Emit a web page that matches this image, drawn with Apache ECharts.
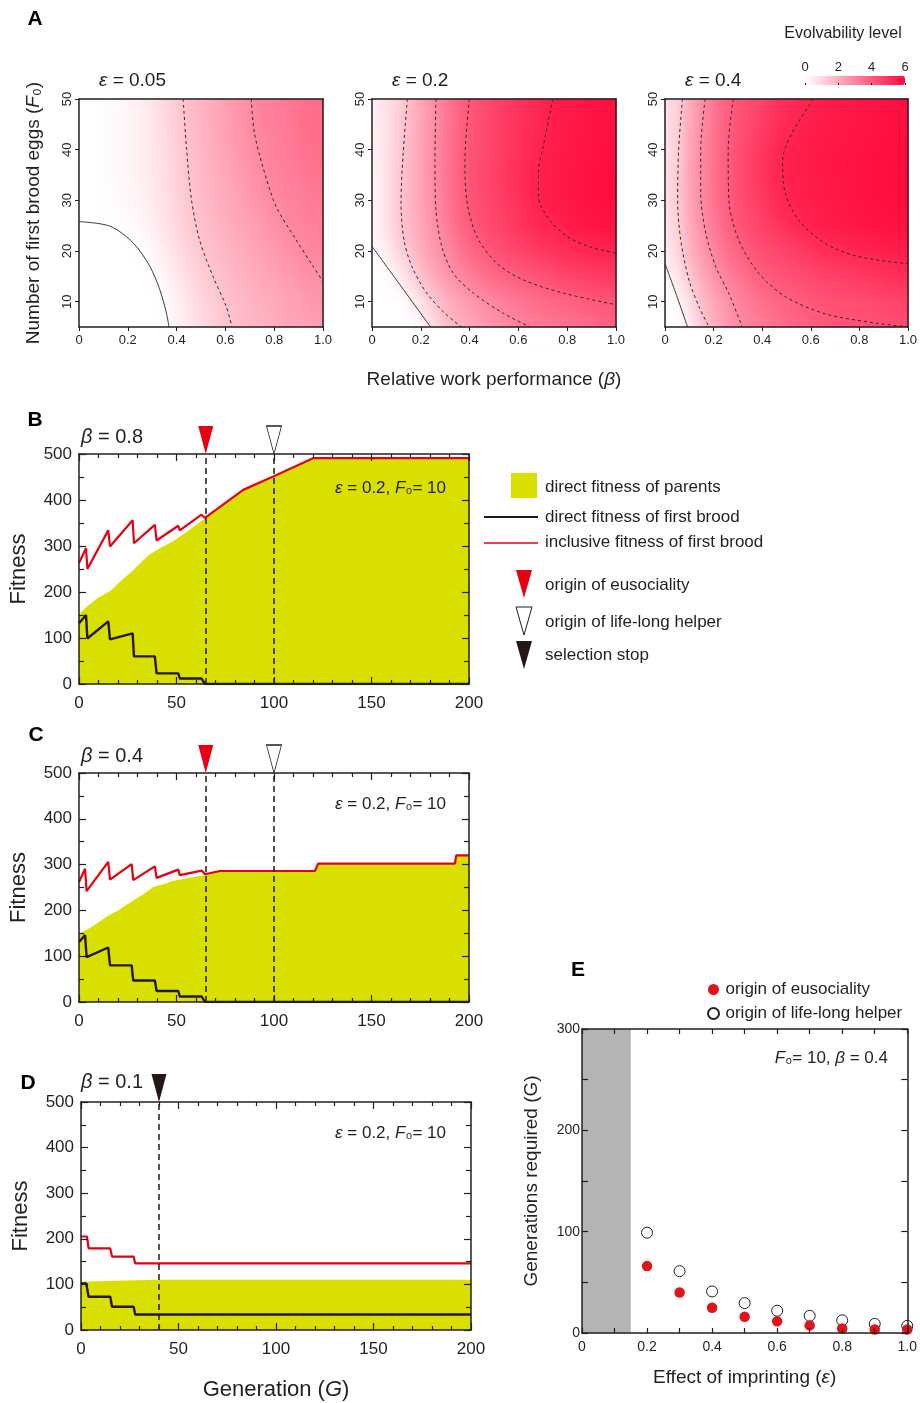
<!DOCTYPE html>
<html>
<head>
<meta charset="utf-8">
<title>Evolvability and fitness</title>
<script src="https://cdn.jsdelivr.net/npm/echarts@6.0.0/dist/echarts.min.js"></script>
<style>
html,body{margin:0;padding:0;background:#ffffff;}
#chart{width:920px;height:1403px;}
</style>
</head>
<body>
<div id="chart"></div>
<script>
// ================= Panel A : evolvability heat maps =================
// cell centres (beta across, F0 up); each cell is 0.05 wide in beta and 5 high in F0
const betaCells = [0.025,0.075,0.125,0.175,0.225,0.275,0.325,0.375,0.425,0.475,0.525,0.575,0.625,0.675,0.725,0.775,0.825,0.875,0.925,0.975];
const f0Cells = [7.5,12.5,17.5,22.5,27.5,32.5,37.5,42.5,47.5];
const f0Ticks = [10,20,30,40,50];
const epsilonValues = ['0.05','0.2','0.4'];

// rows listed from top (F0 = 47.5) to bottom (F0 = 7.5)
const evoEps005 = [
[0,0,0.1,0.2,0.3,0.5,0.8,1.1,1.5,1.7,2.0,2.2,2.5,2.7,3.0,3.1,3.2,3.4,3.5,3.6],
[0,0,0.1,0.2,0.3,0.5,0.7,1.0,1.4,1.7,1.9,2.2,2.4,2.7,2.9,3.1,3.2,3.3,3.5,3.6],
[0,0,0.1,0.2,0.3,0.5,0.7,1.0,1.4,1.6,1.9,2.1,2.3,2.6,2.8,3.0,3.1,3.3,3.4,3.5],
[0,0,0.1,0.2,0.3,0.4,0.6,0.9,1.3,1.6,1.8,2.0,2.2,2.4,2.7,2.9,3.0,3.1,3.2,3.4],
[0,0,0.05,0.1,0.2,0.4,0.6,0.9,1.2,1.5,1.7,1.9,2.1,2.3,2.5,2.7,2.9,3.0,3.1,3.2],
[0,0,0,0,0,0.2,0.4,0.7,1.1,1.4,1.6,1.8,2.0,2.1,2.3,2.5,2.7,2.9,3.0,3.1],
[0,0,0,0,0,0,0.2,0.5,0.8,1.2,1.4,1.6,1.8,2.0,2.1,2.3,2.5,2.6,2.8,2.9],
[0,0,0,0,0,0,0,0.3,0.6,0.9,1.2,1.5,1.7,1.8,2.0,2.1,2.2,2.4,2.5,2.7],
[0,0,0,0,0,0,0,0.1,0.4,0.7,1.0,1.3,1.5,1.7,1.8,1.9,2.1,2.2,2.3,2.4]
];
const evoEps02 = [
[0.4,0.9,1.3,1.9,2.5,3.0,3.5,4.0,4.2,4.5,4.7,4.9,5.1,5.3,5.5,5.6,5.6,5.7,5.8,5.8],
[0.4,0.9,1.4,2.0,2.5,3.0,3.5,4.0,4.3,4.5,4.7,4.9,5.1,5.3,5.5,5.6,5.7,5.7,5.8,5.9],
[0.3,0.9,1.5,2.0,2.6,3.1,3.6,4.1,4.3,4.5,4.8,5.0,5.2,5.4,5.6,5.6,5.7,5.8,5.8,5.9],
[0.3,0.9,1.5,2.0,2.5,3.1,3.5,4.0,4.3,4.5,4.8,5.0,5.2,5.5,5.6,5.7,5.7,5.8,5.9,6.0],
[0.3,0.9,1.6,2.0,2.5,3.0,3.5,4.0,4.3,4.5,4.7,4.9,5.1,5.4,5.5,5.6,5.7,5.8,5.8,5.9],
[0.3,0.9,1.4,1.9,2.4,2.8,3.2,3.7,4.1,4.3,4.5,4.7,4.9,5.1,5.3,5.4,5.5,5.6,5.6,5.7],
[0,0.3,1.0,1.6,2.1,2.5,2.9,3.3,3.6,3.9,4.2,4.3,4.4,4.5,4.6,4.8,4.9,5.0,5.1,5.2],
[0,0,0,0.9,1.6,2.0,2.4,2.7,3.0,3.2,3.4,3.5,3.7,3.9,4.1,4.2,4.3,4.4,4.5,4.5],
[0,0,0,0,0.4,1.3,1.7,2.0,2.3,2.5,2.8,3.0,3.1,3.2,3.3,3.4,3.5,3.6,3.7,3.9]
];
const evoEps04 = [
[0.7,1.6,2.4,3.1,3.6,4.1,4.3,4.5,4.8,5.0,5.2,5.4,5.5,5.6,5.6,5.7,5.7,5.8,5.8,5.9],
[0.7,1.7,2.5,3.1,3.7,4.2,4.4,4.7,5.0,5.3,5.5,5.6,5.6,5.7,5.7,5.7,5.8,5.8,5.9,5.9],
[0.7,1.8,2.6,3.2,3.7,4.2,4.5,4.8,5.1,5.4,5.5,5.6,5.6,5.7,5.7,5.8,5.8,5.9,5.9,6.0],
[0.8,1.8,2.6,3.2,3.7,4.2,4.5,4.8,5.1,5.4,5.5,5.6,5.6,5.7,5.7,5.8,5.8,5.9,5.9,6.0],
[0.7,1.8,2.5,3.1,3.6,4.1,4.4,4.6,4.9,5.2,5.4,5.5,5.6,5.6,5.7,5.7,5.8,5.8,5.9,5.9],
[0.6,1.6,2.3,2.9,3.4,3.9,4.2,4.4,4.6,4.8,5.0,5.2,5.4,5.5,5.6,5.6,5.7,5.7,5.7,5.8],
[0.4,1.3,2.0,2.6,3.1,3.4,3.8,4.1,4.2,4.3,4.4,4.5,4.7,4.8,4.9,5.0,5.1,5.2,5.3,5.4],
[0,0.7,1.6,2.1,2.6,3.0,3.3,3.6,3.9,4.1,4.2,4.3,4.4,4.4,4.5,4.6,4.6,4.7,4.8,4.9],
[0,0,0.9,1.7,2.2,2.7,3.0,3.2,3.3,3.5,3.7,3.8,4.0,4.1,4.2,4.2,4.2,4.3,4.3,4.4]
];

// contour lines [beta, F0]
const zeroEps005 = [[0,25.8],[0.127,24.9],[0.222,21.6],[0.29,17],[0.331,12.4],[0.358,7.8],[0.369,5]];
const lvl1Eps005 = [[0.427,50],[0.441,40],[0.461,30.1],[0.494,22.2],[0.549,15],[0.603,9.1],[0.627,5]];
const lvl2Eps005 = [[0.706,50],[0.719,43.3],[0.753,36.7],[0.808,28.8],[0.89,22.2],[0.959,17],[1.0,14]];

const zeroEps02 = [[0,20.9],[0.1,14.3],[0.24,5]];
const lvl1Eps02 = [[0.145,50],[0.128,39.4],[0.119,29.5],[0.131,22.2],[0.163,17],[0.224,11.7],[0.299,7.7],[0.367,5]];
const lvl2Eps02 = [[0.262,50],[0.258,38.1],[0.262,28.2],[0.286,20.9],[0.333,15.6],[0.415,11.7],[0.538,7.7],[0.648,5]];
const lvl3Eps02 = [[0.399,50],[0.381,38.1],[0.388,30.2],[0.429,22.9],[0.511,17.6],[0.62,14.3],[0.784,11.7],[1.0,9.4]];
const lvl4Eps02 = [[0.741,50],[0.702,40.7],[0.682,35.5],[0.682,30.8],[0.716,26.9],[0.798,22.9],[0.907,20.6],[1.0,19.6]];

const zeroEps04 = [[0,17.5],[0.045,11.6],[0.093,5]];
const lvl1Eps04 = [[0.072,50],[0.056,39.9],[0.052,30],[0.065,22.1],[0.099,14.2],[0.14,9],[0.181,5]];
const lvl2Eps04 = [[0.165,50],[0.147,39.9],[0.147,31.4],[0.168,23.5],[0.209,16.9],[0.263,11.6],[0.318,5]];
const lvl3Eps04 = [[0.281,50],[0.26,39.9],[0.263,30],[0.304,22.1],[0.386,15.6],[0.495,11],[0.659,7.6],[0.877,5.7],[1.0,5.05]];
const lvl4Eps04 = [[0.611,50],[0.522,43.2],[0.484,37.9],[0.495,31.4],[0.55,26.1],[0.659,21.5],[0.795,18.9],[1.0,17.5]];

// ================= Panels B-D : fitness over generations =================
const parentsB   = [[0,152],[5,172],[10,188],[16,202],[22,226],[28,248],[32,265],[36,281],[42,296],[48,310],[56,333],[64,358],[64.6,361],[84.2,422],[99.6,451],[120,491],[200,491]];
const firstBroodB = [[0,132],[3.6,150],[4.3,99],[15,136],[15.9,97],[27.5,110],[28.2,60],[38.9,60],[39.8,23],[50.9,23],[51.7,12],[62.8,12],[64.6,0],[200,0]];
const inclusiveB = [[0,263],[3.6,295],[4.3,250],[15,334],[15.9,299],[27.5,356],[28.2,306],[38.9,346],[39.8,312],[50.9,344],[51.7,334],[62.8,368],[64.6,361],[84.2,422],[99.6,451],[120,491],[200,491]];

const parentsC   = [[0,149],[7,165],[14,186],[20,200],[28,222],[34,238],[38,251],[44,258],[48,264],[56,271],[64,277],[64.6,279],[72.2,286],[121,286],[122.6,302],[192.7,302],[193.5,320],[200,320]];
const firstBroodC = [[0,131],[3.1,146],[3.9,98],[15,119],[15.9,80],[27,80],[27.8,47],[38.9,47],[39.8,24],[50.9,24],[51.7,12],[62.9,12],[64.6,0],[200,0]];
const inclusiveC = [[0,262],[3.1,291],[3.9,242],[15,306],[15.9,267],[27,301],[27.8,266],[38.9,296],[39.8,271],[50.9,289],[51.7,277],[62.9,287],[64.6,279],[72.2,286],[121,286],[122.6,302],[192.7,302],[193.5,320],[200,320]];

const parentsD   = [[0,106],[28,109],[40,110],[200,110]];
const firstBroodD = [[0,102],[2.7,102],[3.9,73],[15,73],[15.9,51],[27,51],[27.8,34],[200,34]];
const inclusiveD = [[0,205],[3.1,205],[3.9,179],[15,179],[15.9,161],[27,161],[27.8,146],[200,146]];

const eusocialityOriginB = 65, lifelongHelperB = 100;
const eusocialityOriginC = 65, lifelongHelperC = 100;
const selectionStopD = 40;
const betaValues = ['0.8','0.4','0.1'];

// ================= Panel E =================
const imprintEffect = [0.2,0.3,0.4,0.5,0.6,0.7,0.8,0.9,1.0];
const gensEusociality = [66,40,25,16,11.5,7.5,4.5,3.5,3.5];
const gensLifelongHelper = [99,61,41,29.5,22,17,12.5,9,7];
const excludedEffectRange = [0, 0.15];

// ================= styling helpers =================
const FONT = "'Liberation Sans', Arial, Helvetica, sans-serif";
const INK = '#231f20';
const RED = '#e60012';
const YELLOW = '#d9df00';
const DARK = '#231815';
const TRI = 'path://M0,0L16,0L8,28Z';
const EVO_MAX = 6;
const EVO_COLORS = ['#ffffff','#ff0a3c'];

function richC(size){ return {
  n:{fontFamily:FONT,fontSize:size,color:INK},
  i:{fontFamily:FONT,fontSize:size,color:INK,fontStyle:'italic'}
};}
function richG(size){ return {
  n:{fontFamily:FONT,fontSize:size,fill:INK},
  i:{fontFamily:FONT,fontSize:size,fill:INK,fontStyle:'italic'}
};}
function gtext(x,y,text,size,align,extra){
  return {type:'text', x:x, y:y, z:50, silent:true,
    style:Object.assign({text:text, fontFamily:FONT, fontSize:size, fill:INK,
      textAlign:align||'left', textVerticalAlign:'middle', rich:richG(size)}, extra||{})};
}
const lineSt = {color:INK, width:1.5};

const grids=[], xAxes=[], yAxes=[], series=[], graphics=[];
function addGrid(g){ grids.push(g); return grids.length-1; }
function addX(a){ xAxes.push(a); return xAxes.length-1; }
function addY(a){ yAxes.push(a); return yAxes.length-1; }
function cellData(rows){
  const out=[]; const n=rows.length;
  rows.forEach((row,r)=>row.forEach((v,c)=>out.push([betaCells[c], f0Cells[n-1-r], v])));
  return out;
}
const fmt01 = v => v===0 ? '0' : v.toFixed(1);
const evoColor = v => echarts.color.lerp(Math.max(0, Math.min(1, v/EVO_MAX)), EVO_COLORS);

// smooth-shaded cell renderer: each measured cell is drawn with colours blended
// towards its neighbours (display shading only; values come from the rows above)
function shadedCells(rows){
  const nR = rows.length, nC = rows[0].length;
  const cell = (r,c) => rows[nR-1-r][c];           // r counted from the bottom
  const corner = (i,j) => {                           // i: column edge, j: row edge
    let s=0, n=0;
    [[-1,-1],[0,-1],[-1,0],[0,0]].forEach(d=>{
      const c=i+d[0], r=j+d[1];
      if (c>=0 && c<nC && r>=0 && r<nR){ s+=cell(r,c); n++; }
    });
    return s/n;
  };
  const dB = betaCells[1]-betaCells[0], dF = f0Cells[1]-f0Cells[0];
  return function(params, api){
    const bc = api.value(0), fc = api.value(1);
    const c = Math.round((bc-betaCells[0])/dB), r = Math.round((fc-f0Cells[0])/dF);
    const p0 = api.coord([bc-dB/2, fc-dF/2]), p1 = api.coord([bc+dB/2, fc+dF/2]);
    const x = p0[0], w = p1[0]-p0[0], yb = p0[1], yt = p1[1];
    const vBL=corner(c,r), vBR=corner(c+1,r), vTL=corner(c,r+1), vTR=corner(c+1,r+1);
    const N = 6, children = [];
    for (let k=0; k<N; k++){
      const t = (k+0.5)/N;
      const vl = vBL+(vTL-vBL)*t, vr = vBR+(vTR-vBR)*t;
      const y1 = yb+(yt-yb)*k/N, y2 = yb+(yt-yb)*(k+1)/N;
      children.push({type:'rect', silent:true,
        shape:{x:x-0.4, y:Math.min(y1,y2)-0.4, width:w+0.8, height:Math.abs(y2-y1)+0.8},
        style:{fill:new echarts.graphic.LinearGradient(0,0,1,0,[{offset:0,color:evoColor(vl)},{offset:1,color:evoColor(vr)}])}});
    }
    return {type:'group', children:children};
  };
}

// ---------- Panel A build ----------
const panelA = [
  {box:{left:79,top:99,width:244,height:228}, evo:evoEps005, zero:zeroEps005, levels:[lvl1Eps005,lvl2Eps005], titleX:99},
  {box:{left:372,top:99,width:244,height:228}, evo:evoEps02, zero:zeroEps02, levels:[lvl1Eps02,lvl2Eps02,lvl3Eps02,lvl4Eps02], titleX:392},
  {box:{left:665,top:99,width:245,height:228}, evo:evoEps04, zero:zeroEps04, levels:[lvl1Eps04,lvl2Eps04,lvl3Eps04,lvl4Eps04], titleX:685}
];
const heatSeriesIdx = [];
panelA.forEach((p,k)=>{
  const gi = addGrid(p.box);
  const xv = addX({gridIndex:gi, type:'value', min:0, max:1, interval:0.2, position:'bottom', z:6,
    axisLine:{show:true, onZero:false, lineStyle:lineSt},
    axisTick:{show:true, length:4, lineStyle:{color:INK, width:1}},
    axisLabel:{margin:7, fontFamily:FONT, fontSize:13, color:INK, formatter:fmt01},
    splitLine:{show:false},
    name: k===1 ? '{n|Relative work performance (}{i|β}{n|)}' : '',
    nameLocation:'middle', nameGap:43, nameTextStyle:{rich:richC(19)}});
  addX({gridIndex:gi, type:'value', min:0, max:1, position:'top', z:6,
    axisLine:{show:true, onZero:false, lineStyle:lineSt}, axisTick:{show:false}, axisLabel:{show:false}, splitLine:{show:false}});
  const yv = addY({gridIndex:gi, type:'value', min:5, max:50, position:'left', z:6,
    axisLine:{show:true, onZero:false, lineStyle:lineSt},
    axisTick:{show:true, length:4, customValues:f0Ticks, lineStyle:{color:INK, width:1}},
    axisLabel:{rotate:90, margin:5, customValues:f0Ticks, fontFamily:FONT, fontSize:13, color:INK},
    splitLine:{show:false},
    name: k===0 ? '{n|Number of first brood eggs (}{i|F}{n|₀)}' : '',
    nameLocation:'middle', nameRotate:90, nameGap:36, nameTextStyle:{rich:richC(19)}});
  addY({gridIndex:gi, type:'value', min:5, max:50, position:'right', z:6,
    axisLine:{show:true, onZero:false, lineStyle:lineSt}, axisTick:{show:false}, axisLabel:{show:false}, splitLine:{show:false}});
  heatSeriesIdx.push(series.length);
  series.push({type:'custom', name:'Evolvability level (ε = '+epsilonValues[k]+')', xAxisIndex:xv, yAxisIndex:yv,
    data:cellData(p.evo), renderItem:shadedCells(p.evo), silent:true, z:2, progressive:0,
    encode:{x:0, y:1}});
  series.push({type:'line', xAxisIndex:xv, yAxisIndex:yv, data:p.zero, smooth:0.3, symbol:'none', silent:true, z:4,
    lineStyle:{color:'#3c3c3c', width:1}});
  p.levels.forEach(lv=>{
    series.push({type:'line', xAxisIndex:xv, yAxisIndex:yv, data:lv, smooth:0.3, symbol:'none', silent:true, z:4,
      lineStyle:{color:'#2a2a2a', width:1, type:[3,3]}});
  });
  graphics.push(gtext(p.titleX, 81, '{i|ε}{n| = '+epsilonValues[k]+'}', 19));
});
// colour bar tick axis
{
  const gi = addGrid({left:805, top:76, width:100, height:9});
  addX({gridIndex:gi, type:'value', min:0, max:EVO_MAX, interval:2, position:'top', z:8,
    axisLine:{show:false}, axisTick:{show:true, inside:false, length:2, lineStyle:{color:INK}},
    axisLabel:{margin:2, fontFamily:FONT, fontSize:13, color:INK}, splitLine:{show:false}});
  addY({gridIndex:gi, type:'value', min:0, max:1, show:false});
}
graphics.push(gtext(35, 19, 'A', 21, 'center', {fontWeight:'bold', fill:'#000'}));
graphics.push(gtext(843, 34, 'Evolvability level', 16, 'center'));

// ---------- Panels B-D build ----------
const eventStyle = {
  eusociality:{color:RED, opacity:1},
  helper:{color:'#ffffff', borderColor:INK, borderWidth:1, opacity:1},
  stop:{color:DARK, opacity:1}
};
const fitPanels = [
  {letter:'B', lx:35, ly:420, box:{left:79,top:454,width:390,height:230}, parents:parentsB, first:firstBroodB, inclusive:inclusiveB,
   events:[['eusociality',eusocialityOriginB],['helper',lifelongHelperB]], betaY:437, noteY:488},
  {letter:'C', lx:36, ly:735, box:{left:79,top:773,width:390,height:229}, parents:parentsC, first:firstBroodC, inclusive:inclusiveC,
   events:[['eusociality',eusocialityOriginC],['helper',lifelongHelperC]], betaY:756, noteY:804},
  {letter:'D', lx:28, ly:1083, box:{left:81,top:1102,width:390,height:228}, parents:parentsD, first:firstBroodD, inclusive:inclusiveD,
   events:[['stop',selectionStopD]], betaY:1082, noteY:1133, xName:true}
];
fitPanels.forEach((p,k)=>{
  const gi = addGrid(p.box);
  const tickSt = {color:INK, width:1.2};
  const xb = addX({gridIndex:gi, type:'value', min:0, max:200, interval:50, position:'bottom', z:6,
    axisLine:{show:true, onZero:false, lineStyle:lineSt},
    axisTick:{show:true, inside:true, length:7, lineStyle:tickSt},
    minorTick:{show:true, splitNumber:5, length:4, lineStyle:tickSt},
    axisLabel:{margin:11, fontFamily:FONT, fontSize:17, color:INK},
    splitLine:{show:false}, minorSplitLine:{show:false},
    name: p.xName ? '{n|Generation (}{i|G}{n|)}' : '', nameLocation:'middle', nameGap:49, nameTextStyle:{rich:richC(22)}});
  addX({gridIndex:gi, type:'value', min:0, max:200, interval:50, position:'top', z:6,
    axisLine:{show:true, onZero:false, lineStyle:lineSt},
    axisTick:{show:true, inside:true, length:7, lineStyle:tickSt},
    minorTick:{show:true, splitNumber:5, length:4, lineStyle:tickSt},
    axisLabel:{show:false}, splitLine:{show:false}});
  const yl = addY({gridIndex:gi, type:'value', min:0, max:500, interval:100, position:'left', z:6,
    axisLine:{show:true, onZero:false, lineStyle:lineSt},
    axisTick:{show:true, inside:true, length:7, lineStyle:tickSt},
    minorTick:{show:true, splitNumber:2, length:5, lineStyle:tickSt},
    axisLabel:{margin:7, fontFamily:FONT, fontSize:17, color:INK},
    splitLine:{show:false},
    name:'Fitness', nameLocation:'middle', nameRotate:90, nameGap:49,
    nameTextStyle:{fontFamily:FONT, fontSize:22, color:INK}});
  addY({gridIndex:gi, type:'value', min:0, max:500, interval:100, position:'right', z:6,
    axisLine:{show:true, onZero:false, lineStyle:lineSt},
    axisTick:{show:true, inside:true, length:7, lineStyle:tickSt},
    minorTick:{show:true, splitNumber:2, length:5, lineStyle:tickSt},
    axisLabel:{show:false}, splitLine:{show:false}});
  series.push({type:'line', name:'direct fitness of parents', xAxisIndex:xb, yAxisIndex:yl, data:p.parents,
    symbol:'none', silent:true, z:1, lineStyle:{width:0, color:YELLOW}, itemStyle:{color:YELLOW},
    areaStyle:{color:YELLOW, opacity:1}});
  series.push({type:'line', name:'direct fitness of first brood', xAxisIndex:xb, yAxisIndex:yl, data:p.first,
    symbol:'none', silent:true, z:3, lineStyle:{width:2.4, color:DARK}, itemStyle:{color:DARK}});
  series.push({type:'line', name:'inclusive fitness of first brood', xAxisIndex:xb, yAxisIndex:yl, data:p.inclusive,
    symbol:'none', silent:true, z:3, lineStyle:{width:2.2, color:RED}, itemStyle:{color:RED}});
  p.events.forEach(ev=>{
    series.push({type:'scatter', name:ev[0]+' marker '+p.letter, xAxisIndex:xb, yAxisIndex:yl,
      data:[[ev[1],500]], symbol:TRI, symbolSize:[15,28], symbolOffset:[0,-14], clip:false, silent:true, z:10,
      itemStyle:eventStyle[ev[0]],
      markLine:{silent:true, symbol:['none','none'], label:{show:false}, animation:false,
        lineStyle:{color:DARK, width:1.5, type:[6,4]}, data:[{xAxis:ev[1]}]}});
  });
  graphics.push(gtext(p.lx, p.ly, p.letter, 21, 'center', {fontWeight:'bold', fill:'#000'}));
  graphics.push(gtext(81, p.betaY, '{i|β}{n| = '+betaValues[k]+'}', 20));
  graphics.push(gtext(446, p.noteY, '{i|ε}{n| = 0.2, }{i|F}{n|₀= 10}', 17, 'right'));
});

// legend for B-D (drawn)
graphics.push({type:'rect', silent:true, shape:{x:511,y:473,width:26,height:25}, style:{fill:YELLOW}});
graphics.push({type:'line', silent:true, shape:{x1:484,y1:517,x2:538,y2:517}, style:{stroke:DARK, lineWidth:2}});
graphics.push({type:'line', silent:true, shape:{x1:484,y1:543,x2:538,y2:543}, style:{stroke:RED, lineWidth:1.5}});
[[570,{fill:RED}],[607,{fill:'#ffffff', stroke:INK, lineWidth:1}],[641,{fill:DARK}]].forEach(t=>{
  graphics.push({type:'polygon', silent:true, shape:{points:[[516,t[0]],[532,t[0]],[524,t[0]+28]]}, style:t[1]});
});
[['direct fitness of parents',487],['direct fitness of first brood',517],['inclusive fitness of first brood',542],
 ['origin of eusociality',585],['origin of life-long helper',622],['selection stop',655]].forEach(t=>{
  graphics.push(gtext(545, t[1], t[0], 17));
});

// ---------- Panel E build ----------
{
  const gi = addGrid({left:582, top:1029, width:327, height:304});
  const tickSt = {color:INK, width:1.2};
  const xb = addX({gridIndex:gi, type:'value', min:0, max:1, interval:0.2, position:'bottom', z:6,
    axisLine:{show:true, onZero:false, lineStyle:lineSt},
    axisTick:{show:true, inside:true, length:5, lineStyle:tickSt},
    minorTick:{show:true, splitNumber:2, length:5, lineStyle:tickSt},
    axisLabel:{margin:7, fontFamily:FONT, fontSize:14, color:INK, formatter:fmt01},
    splitLine:{show:false},
    name:'{n|Effect of imprinting (}{i|ε}{n|)}', nameLocation:'middle', nameGap:35, nameTextStyle:{rich:richC(19)}});
  addX({gridIndex:gi, type:'value', min:0, max:1, interval:0.2, position:'top', z:6,
    axisLine:{show:true, onZero:false, lineStyle:lineSt},
    axisTick:{show:true, inside:true, length:5, lineStyle:tickSt},
    minorTick:{show:true, splitNumber:2, length:5, lineStyle:tickSt},
    axisLabel:{show:false}, splitLine:{show:false}});
  const yl = addY({gridIndex:gi, type:'value', min:0, max:300, interval:100, position:'left', z:6,
    axisLine:{show:true, onZero:false, lineStyle:lineSt},
    axisTick:{show:true, inside:true, length:6, lineStyle:tickSt},
    minorTick:{show:true, splitNumber:2, length:6, lineStyle:tickSt},
    axisLabel:{margin:2, fontFamily:FONT, fontSize:14, color:INK},
    splitLine:{show:false},
    name:'Generations required (G)', nameLocation:'middle', nameRotate:90, nameGap:41,
    nameTextStyle:{fontFamily:FONT, fontSize:19, color:INK}});
  addY({gridIndex:gi, type:'value', min:0, max:300, interval:100, position:'right', z:6,
    axisLine:{show:true, onZero:false, lineStyle:lineSt},
    axisTick:{show:true, inside:true, length:6, lineStyle:tickSt},
    minorTick:{show:true, splitNumber:2, length:6, lineStyle:tickSt},
    axisLabel:{show:false}, splitLine:{show:false}});
  series.push({type:'scatter', name:'origin of life-long helper', xAxisIndex:xb, yAxisIndex:yl,
    data:imprintEffect.map((e,i)=>[e, gensLifelongHelper[i]]), symbol:'circle', symbolSize:11, z:3, silent:true,
    itemStyle:{color:'#ffffff', borderColor:INK, borderWidth:1, opacity:1},
    markArea:{silent:true, itemStyle:{color:'#b4b4b4', opacity:1},
      data:[[{xAxis:excludedEffectRange[0]},{xAxis:excludedEffectRange[1]}]]}});
  series.push({type:'scatter', name:'origin of eusociality', xAxisIndex:xb, yAxisIndex:yl,
    data:imprintEffect.map((e,i)=>[e, gensEusociality[i]]), symbol:'circle', symbolSize:10.5, z:4, silent:true,
    itemStyle:{color:'#e1141c', opacity:1}});
  graphics.push(gtext(578, 970, 'E', 21, 'center', {fontWeight:'bold', fill:'#000'}));
  graphics.push(gtext(888, 1058, '{i|F}{n|₀= 10, }{i|β}{n| = 0.4}', 17, 'right'));
}

const option = {
  animation:false,
  backgroundColor:'#ffffff',
  textStyle:{fontFamily:FONT},
  grid:grids, xAxis:xAxes, yAxis:yAxes, series:series, graphic:graphics,
  visualMap:[{type:'continuous', min:0, max:EVO_MAX, seriesIndex:heatSeriesIdx, dimension:2, orient:'horizontal',
    left:805, top:76, itemWidth:9, itemHeight:100, calculable:false, hoverLink:false, padding:0,
    text:null, inRange:{color:EVO_COLORS}}],
  legend:[{data:['origin of eusociality','origin of life-long helper'], orient:'vertical', left:702, top:976,
    itemWidth:14, itemHeight:11, itemGap:7, icon:'circle', selectedMode:false,
    textStyle:{fontFamily:FONT, fontSize:17, color:INK}}]
};
const chart = echarts.init(document.getElementById('chart'), null, {renderer:'canvas'});
chart.setOption(option);
</script>
</body>
</html>
